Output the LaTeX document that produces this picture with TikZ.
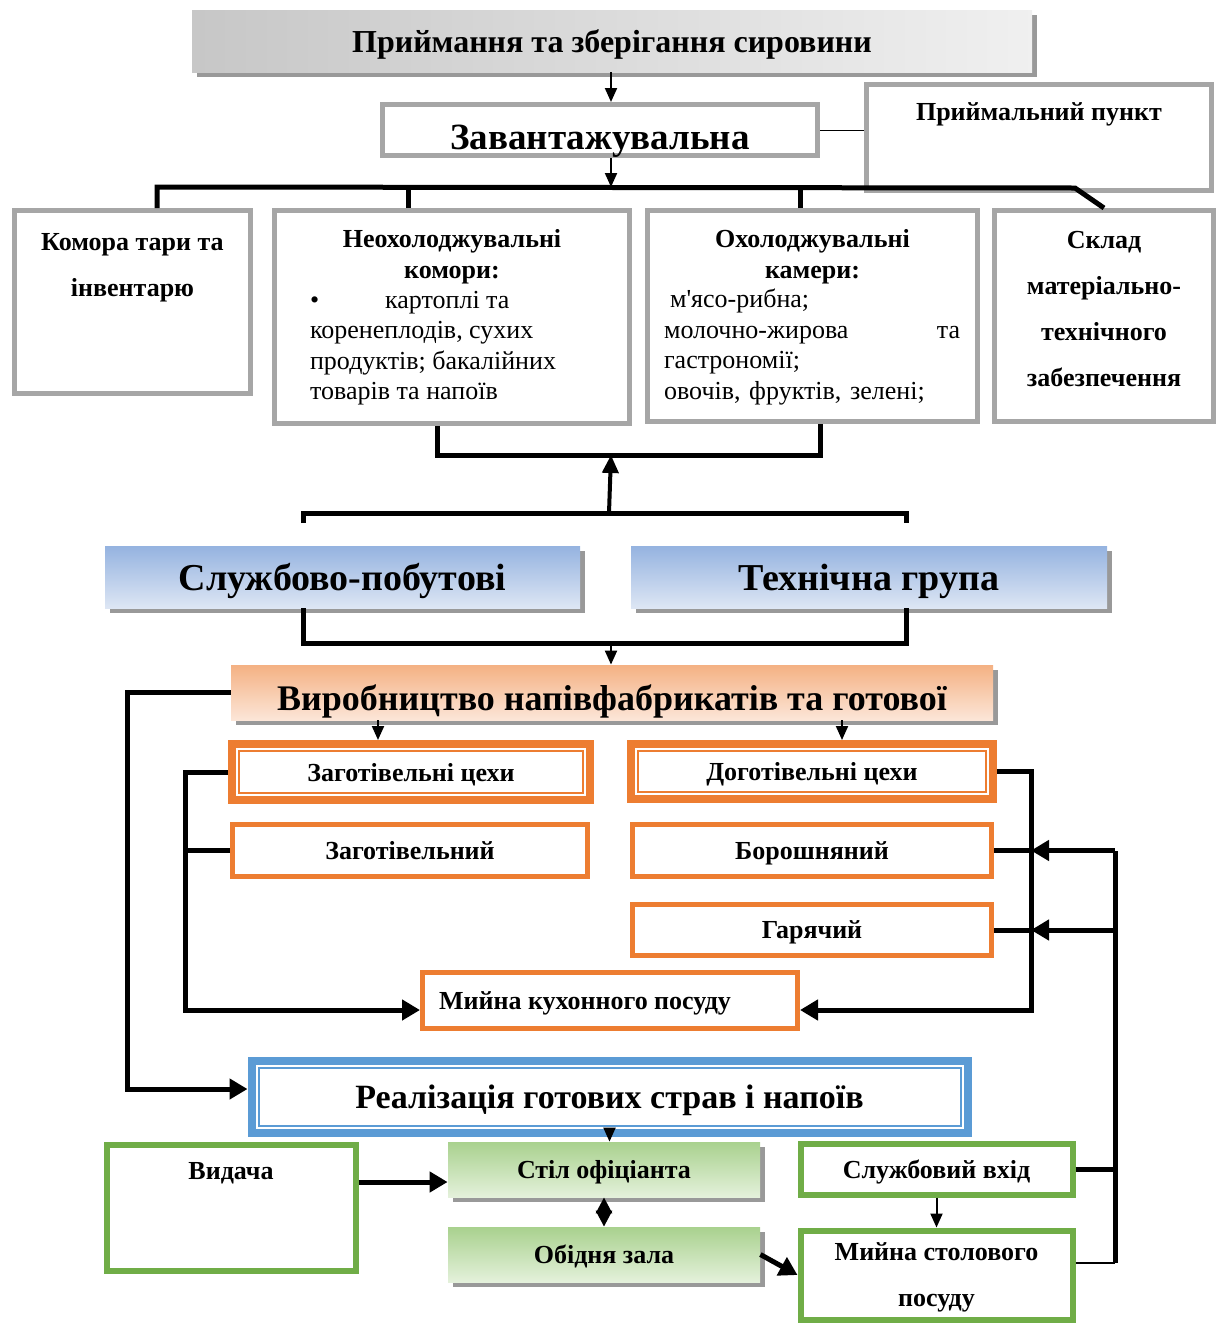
\documentclass[tikz,border=0pt]{standalone}
\usepackage{fontspec}
\setmainfont{Liberation Serif}
\usetikzlibrary{arrows.meta,positioning,shadows}
\definecolor{sirka}{HTML}{A6A6A6}
\definecolor{pomar}{HTML}{ED7D31}
\definecolor{synij}{HTML}{5B9BD5}
\definecolor{zelen}{HTML}{70AD47}
\definecolor{synT}{HTML}{95B3E0}
\definecolor{synB}{HTML}{DDE6F4}
\definecolor{pomT}{HTML}{F4B183}
\definecolor{pomB}{HTML}{FCE6D8}
\definecolor{zelT}{HTML}{A9D18E}
\definecolor{zelB}{HTML}{E4F1DB}
\tikzset{
  sirbox/.style={draw=sirka,line width=2.5pt,fill=white},
  pombox/.style={draw=pomar,line width=2.5pt,fill=white},
  zelbox/.style={draw=zelen,line width=3pt,fill=white},
  ramka/.style={draw=#1,line width=4pt,fill=white,path picture={\draw[#1,line width=1pt] ([xshift=3.5pt,yshift=-3.5pt]path picture bounding box.north west) rectangle ([xshift=-3.5pt,yshift=3.5pt]path picture bounding box.south east);}},
  tin/.style={drop shadow={shadow xshift=2.5pt,shadow yshift=-2.5pt,fill=black!40,opacity=1}},
  shyna/.style={line width=2.5pt},
  strl/.style={line width=1pt,-{Triangle[width=6pt,length=7pt]}},
  tovst/.style={line width=2.5pt,-{Triangle[width=10pt,length=9pt]}},
  t13/.style={font=\fontsize{13}{15.5}\selectfont\bfseries,text depth=0pt},
  t13w/.style={font=\fontsize{13}{23}\selectfont\bfseries,text depth=0pt},
  r13/.style={font=\fontsize{13}{15.25}\selectfont},
  velyk/.style={font=\fontsize{#1}{#1}\selectfont\bfseries,text depth=0pt},
}
\begin{document}
\begin{tikzpicture}[x=0.5pt,y=-0.5pt]
\useasboundingbox (0,0) rectangle (1221,1323);
\node[tin,left color=black!22,right color=black!6,minimum width=420pt,minimum height=31pt,velyk=16] (prsyr) at (612,41) {Приймання та зберігання сировини};
\node[sirbox,minimum width=217.5pt,minimum height=25.5pt] (zav) at (600,130) {};
\node[velyk=18.5] (zavt) at (600,137) {Завантажувальна};
\node[sirbox,minimum width=172.5pt,minimum height=53pt] (prp) at (1039,137.5) {};
\node[t13] (prpt) at (1039,112) {Приймальний пункт};
\node[sirbox,minimum width=118pt,minimum height=91.5pt] (kom) at (132.5,302) {};
\node[t13w,align=center] (komt) at (132.5,265) {Комора тари та\\інвентарю};
\node[sirbox,minimum width=177.5pt,minimum height=106.5pt] (neo) at (452,317) {};
\node[t13,align=center] (neot) at (452,254) {Неохолоджувальні\\комори:};
\node[r13,align=left,anchor=north west] (neol) at (303,284) {•\hspace{33pt}картоплі та\\коренеплодів, сухих\\продуктів; бакалійних\\товарів та напоїв};
\node[sirbox,minimum width=165pt,minimum height=105.5pt] (oxo) at (812.5,316) {};
\node[t13,align=center] (oxot) at (812.5,254) {Охолоджувальні\\камери:};
\node[r13,align=left,text width=148pt,anchor=north west] (oxol) at (657,282) {\hspace*{3pt}м\textquotesingle ясо-рибна;\\молочно-жирова\hfill та\\гастрономії;\\овочів, фруктів, зелені;};
\node[sirbox,minimum width=109.5pt,minimum height=105.5pt] (skl) at (1104,316) {};
\node[t13w,align=center] (sklt) at (1104,309) {Склад\\матеріально-\\технічного\\забезпечення};
\coordinate (bL) at (157,187);
\coordinate (bN) at (408,187);
\coordinate (bM) at (611,187);
\coordinate (bO) at (800,187);
\coordinate (bR) at (1075,188);
\draw[strl] (prsyr.south -| bM) -- (zav.north -| bM);
\draw[strl] (zav.south -| bM) -- (bM);
\draw (zav.east) -- (zav.east -| prp.west);
\draw[shyna] (kom.north -| bL) -- (bL) -- (bR) -- (skl.north);
\foreach \v/\c in {neo/bN,oxo/bO}{\draw[shyna] (\v.north -| \c) -- (\c);}
\coordinate (cL) at (437,455);
\coordinate (cM) at (611,455);
\coordinate (cR) at (820,455);
\draw[shyna] (neo.south -| cL) -- (cL) -- (cR) -- (oxo.south -| cR);
\coordinate (dL) at (303,513);
\coordinate (dM) at (609,513);
\coordinate (dR) at (906,513);
\draw[line width=2pt,-{Triangle[width=8pt,length=9pt]}] (dM) -- (cM);
\draw[shyna] ([yshift=-5pt]dL) -- (dL) -- (dR) -- ([yshift=-5pt]dR);
\node[tin,top color=synT,bottom color=synB,minimum width=237.5pt,minimum height=31pt,velyk=19] (sl) at (342.5,577) {Службово-побутові};
\node[tin,top color=synT,bottom color=synB,minimum width=238pt,minimum height=31pt,velyk=19] (tg) at (869,577) {Технічна група};
\node[tin,top color=pomT,bottom color=pomB,minimum width=381pt,minimum height=27.5pt] (vyr) at (612,692.5) {};
\node[velyk=18] (vyrt) at (612,698) {Виробництво напівфабрикатів та готової};
\coordinate (eL) at (303,643);
\coordinate (eM) at (611,643);
\coordinate (eR) at (906,643);
\draw[shyna] (sl.south -| eL) -- (eL) -- (eR) -- (tg.south -| eR);
\draw[strl] (eM) -- (vyr.north -| eM);
\node[ramka=pomar,minimum width=179pt,minimum height=28pt,t13] (zag) at (411,772) {Заготівельні цехи};
\node[ramka=pomar,minimum width=181pt,minimum height=27.5pt,t13] (dog) at (812,771.5) {Доготівельні цехи};
\node[pombox,minimum width=177.5pt,minimum height=26pt,t13] (zgv) at (410,850.5) {Заготівельний};
\node[pombox,minimum width=179.5pt,minimum height=26pt,t13] (bor) at (812,850.5) {Борошняний};
\node[pombox,minimum width=179.5pt,minimum height=25.5pt,t13] (gar) at (812,930) {Гарячий};
\node[pombox,minimum width=187.5pt,minimum height=28pt] (myk) at (610,1000.5) {};
\node[t13,right=6pt of myk.west] (mykt) {Мийна кухонного посуду};
\coordinate (zA) at ([xshift=-16.5pt]zag.north);
\coordinate (dA) at ([xshift=15pt]dog.north);
\foreach \c in {zA,dA}{\draw[strl] (\c |- vyr.south) -- (\c);}
\coordinate (gB) at (185,1010);
\coordinate (hB) at (1031,1010);
\draw[tovst] (zag.west) -| (gB) -- (gB -| myk.west);
\draw[shyna] (zgv.west) -- (zgv.west -| gB);
\draw[tovst] (dog.east) -| (hB) -- (hB -| myk.east);
\coordinate (iT) at (1115,851);
\coordinate (iB) at (1115,1263);
\foreach \v in {bor,gar}{\draw[shyna] (\v.east) -- (\v.east -| hB);
  \draw[tovst] (iT |- \v.east) -- (\v.east -| hB);}
\draw[shyna] (iT) -- (iB);
\node[ramka=synij,minimum width=358pt,minimum height=36pt,velyk=17] (real) at (609.5,1097) {Реалізація готових страв і напоїв};
\coordinate (fL) at (127,692);
\coordinate (fB) at ([yshift=4pt]real.west);
\draw[tovst] (vyr.west) -- (vyr.west -| fL) |- (fB);
\node[zelbox,minimum width=124.5pt,minimum height=63pt] (vyd) at (231,1207.5) {};
\node[t13] (vydt) at (231,1171) {Видача};
\node[tin,top color=zelT,bottom color=zelB,minimum width=156pt,minimum height=27.5pt,t13] (stil) at (604,1169.5) {Стіл офіціанта};
\node[tin,top color=zelT,bottom color=zelB,minimum width=156pt,minimum height=27.5pt,t13] (obid) at (604,1254.5) {Обідня зала};
\node[zelbox,minimum width=136pt,minimum height=25.5pt,t13] (sv) at (936.5,1169) {Службовий вхід};
\node[zelbox,minimum width=136pt,minimum height=44.5pt,t13w,align=center] (mst) at (936.5,1275) {Мийна столового\\посуду};
\draw[strl] (real.south) -- (real.south |- stil.north);
\coordinate (vA) at ([yshift=12.75pt]vyd.east);
\draw[tovst] (vA) -- (vA -| stil.west);
\draw[line width=1.5pt,{Triangle[width=8pt,length=8pt]}-{Triangle[width=8pt,length=8pt]}] (stil.south) -- (obid.north);
\draw[tovst] (obid.east) -- (mst.west);
\draw[strl] (sv.south) -- (mst.north);
\draw[shyna] (sv.east) -- (sv.east -| iB);
\draw[line width=1pt] (iB -| mst.east) -- (iB);
\end{tikzpicture}
\end{document}
